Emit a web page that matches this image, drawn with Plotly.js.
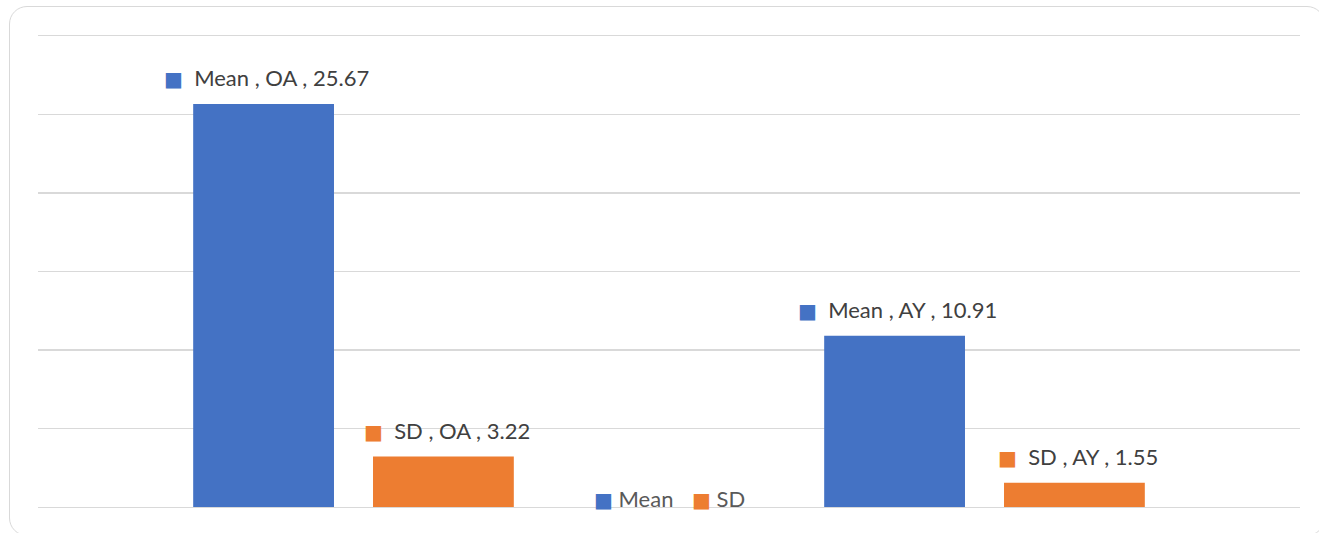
<!DOCTYPE html>
<html>
<head>
<meta charset="utf-8">
<script src="https://cdn.plot.ly/plotly-3.0.1.min.js"></script>
<style>
  html, body { margin:0; padding:0; background:#fff; overflow:hidden; }
  #wrap { position:relative; width:1319px; height:533px; }
  #chart { width:1319px; height:533px; }
  #frame { position:absolute; left:9px; top:6px; width:1316px; height:530px;
           border:1px solid #d9d9d9; border-radius:18px; pointer-events:none; box-sizing:border-box; }
</style>
</head>
<body>
<div id="wrap">
  <div id="chart"></div>
  <div id="frame"></div>
</div>
<script>
const categories = ["OA", "AY"];
const meanValues = [25.67, 10.91];
const sdValues = [3.22, 1.55];
const seriesNames = ["Mean", "SD"];
const seriesColors = ["#4472C4", "#ED7D31"];

const FONT = "Lato, 'Open Sans', sans-serif";
const series = [meanValues, sdValues];

function sq(color) {
  return '<span style="color:' + color + ';font-family:DejaVu Sans;font-size:20px">■</span>';
}

const traces = series.map((vals, i) => ({
  type: "bar",
  name: seriesNames[i],
  x: categories,
  y: vals,
  marker: { color: seriesColors[i] },
  hoverinfo: "none"
}));

const offsets = [-90, 90];
const annotations = [];
series.forEach((vals, i) => {
  vals.forEach((v, j) => {
    annotations.push({
      x: categories[j], y: v, xref: "x", yref: "y",
      xshift: offsets[i] + 3, yshift: 26,
      showarrow: false,
      text: sq(seriesColors[i]) + '  ' + seriesNames[i] + " , " + categories[j] + " , " + v.toFixed(2),
      font: { family: FONT, size: 22, color: "#404040" }
    });
  });
});

// legend entries (drawn as annotations to match the reference's compact legend)
const legendX = [0.439, 0.5167];
seriesNames.forEach((n, i) => {
  annotations.push({
    x: legendX[i], y: 0.017, xref: "paper", yref: "paper",
    xanchor: "left", yanchor: "middle", showarrow: false,
    text: sq(seriesColors[i]) + ' ' + n,
    font: { family: FONT, size: 22, color: "#595959" }
  });
});

const layout = {
  width: 1319, height: 533,
  margin: { l: 38, r: 19, t: 36, b: 26 },
  paper_bgcolor: "rgba(0,0,0,0)",
  plot_bgcolor: "rgba(0,0,0,0)",
  barmode: "group",
  bargap: 0.43,
  bargroupgap: 0.217,
  font: { family: FONT, size: 22, color: "#595959" },
  xaxis: { showticklabels: false, showgrid: false, zeroline: false,
           showline: true, mirror: true, linecolor: "#d9d9d9", linewidth: 1.3, ticks: "" },
  yaxis: { range: [0, 30], dtick: 5, showticklabels: false, showgrid: true,
           gridcolor: "#d9d9d9", gridwidth: 1.3, zeroline: false, showline: false, ticks: "" },
  showlegend: false,
  annotations: annotations
};

Plotly.newPlot("chart", traces, layout, { displayModeBar: false, staticPlot: true });
</script>
</body>
</html>
